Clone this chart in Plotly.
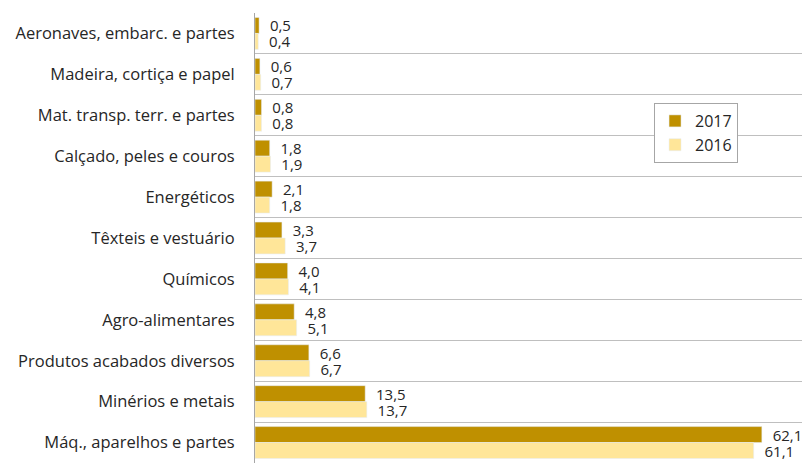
import plotly.graph_objects as go

categories = [
    "Aeronaves, embarc. e partes",
    "Madeira, cortiça e papel",
    "Mat. transp. terr. e partes",
    "Calçado, peles e couros",
    "Energéticos",
    "Têxteis e vestuário",
    "Químicos",
    "Agro-alimentares",
    "Produtos acabados diversos",
    "Minérios e metais",
    "Máq., aparelhos e partes",
]
values_2017 = [0.5, 0.6, 0.8, 1.8, 2.1, 3.3, 4.0, 4.8, 6.6, 13.5, 62.1]
values_2016 = [0.4, 0.7, 0.8, 1.9, 1.8, 3.7, 4.1, 5.1, 6.7, 13.7, 61.1]

FONT = "Open Sans"

def fmt(v):
    return "  " + f"{v:.1f}".replace(".", ",")

fig = go.Figure()
fig.add_trace(go.Bar(
    y=categories, x=values_2017, orientation="h", name="2017",
    marker=dict(color="#BF9000"), legendgroup="a",
    text=[fmt(v) for v in values_2017], textposition="outside",
    textfont=dict(size=15, color="#262626", family=FONT),
    cliponaxis=False, constraintext="none",
))
fig.add_trace(go.Bar(
    y=categories, x=values_2016, orientation="h", name="2016",
    marker=dict(color="#FFE699"), legendgroup="b",
    text=[fmt(v) for v in values_2016], textposition="outside",
    textfont=dict(size=15, color="#262626", family=FONT),
    cliponaxis=False, constraintext="none",
))

# page body has an 8px margin, so the figure is sized 802x455
fig.update_layout(
    width=802, height=455,
    margin=dict(l=247, r=0, t=5, b=0),
    barmode="group", bargap=0.22, bargroupgap=0,
    plot_bgcolor="white", paper_bgcolor="white",
    font=dict(family=FONT, size=15, color="#262626"),
    showlegend=True,
    legend=dict(
        x=0.719, y=0.8, xanchor="left", yanchor="top",
        bordercolor="#A6A6A6", borderwidth=1, bgcolor="white",
        traceorder="normal", tracegroupgap=16,
        font=dict(size=16, family=FONT, color="#262626"),
    ),
    xaxis=dict(range=[0, 68], showgrid=False, showticklabels=False,
               zeroline=False, showline=False, fixedrange=True),
    yaxis=dict(autorange="reversed", type="category", tickson="boundaries",
               showgrid=True, gridcolor="#BFBFBF", gridwidth=1,
               showline=True, linecolor="#A6A6A6", linewidth=1,
               ticks="", ticklabelstandoff=16,
               tickfont=dict(size=16.5, family=FONT, color="#262626")),
)

fig.write_html("out.html")
